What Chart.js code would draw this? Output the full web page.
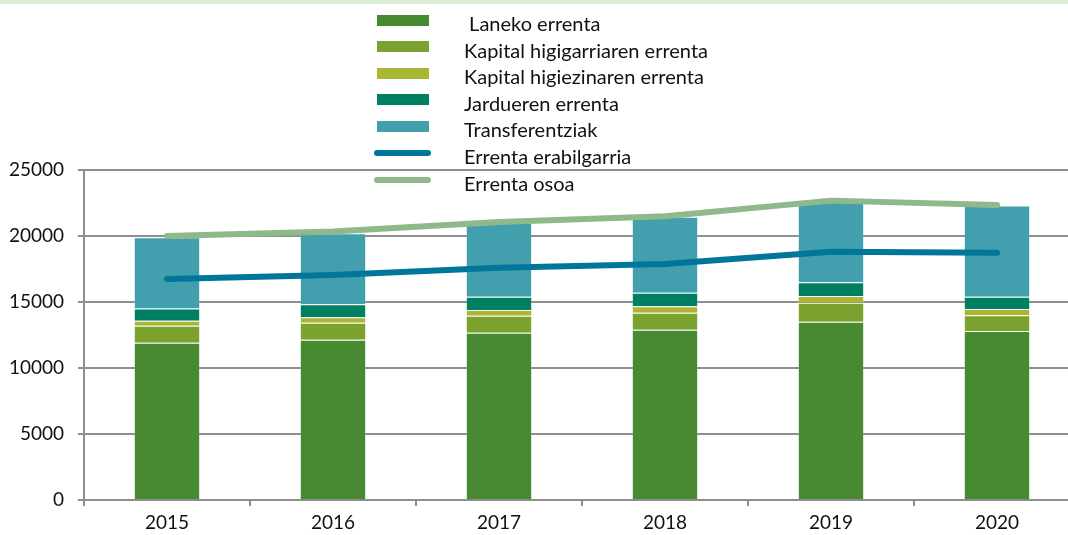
<!DOCTYPE html>
<html>
<head>
<meta charset="utf-8">
<script src="https://cdn.jsdelivr.net/npm/chart.js@4/dist/chart.umd.min.js"></script>
<style>
  html, body { margin: 0; padding: 0; background: #fff; overflow: hidden; }
  #wrap { position: relative; width: 1068px; height: 535px; overflow: hidden; }
  #band { position: absolute; left: 0; top: 0; width: 1068px; height: 4px; background: #dcedd5; }
  #cv { position: absolute; left: 0; top: 0; }
  #legend { position: absolute; left: 0; top: 0; font-family: Lato, sans-serif; font-size: 20px; color: #111; }
  .row { position: absolute; left: 0; height: 26px; white-space: pre; }
  .sw { position: absolute; }
  .txt { position: absolute; left: 464px; line-height: 22px; }
</style>
</head>
<body>
<div id="wrap">
  <canvas id="cv" width="1080" height="535"></canvas>
  <div id="band"></div>
  <div id="legend"></div>
</div>
<script>
// Values
const years = ['2015', '2016', '2017', '2018', '2019', '2020'];
const laneko = [11920, 12140, 12670, 12900, 13500, 12800];
const higigarri = [1280, 1290, 1290, 1290, 1450, 1190];
const higiezin = [380, 410, 430, 480, 500, 480];
const jarduerak = [920, 990, 1010, 1030, 1040, 930];
const transferentziak = [5400, 5370, 5600, 5760, 6110, 6920];
const erabilgarria = [16740, 17050, 17600, 17880, 18800, 18740];
const osoa = [20000, 20350, 21060, 21500, 22680, 22350];
const yTicks = [0, 5000, 10000, 15000, 20000, 25000];

const GRID = '#8e8e8e';
const FONT = { family: 'Lato, sans-serif', size: 19 };

function barSet(label, data, color) {
  return {
    type: 'bar', label: label, data: data, backgroundColor: color,
    borderColor: 'rgba(255,255,255,0.22)', borderWidth: 1,
    stack: 'bars', order: 2, barPercentage: 0.4, categoryPercentage: 1
  };
}
function lineSet(label, data, color, stack) {
  return {
    type: 'line', label: label, data: data, borderColor: color, backgroundColor: color,
    borderWidth: 6, borderCapStyle: 'round', borderJoinStyle: 'round',
    pointRadius: 0, tension: 0, stack: stack, order: 0
  };
}

const datasets = [
  barSet(' Laneko errenta', laneko, '#488a31'),
  barSet('Kapital higigarriaren errenta', higigarri, '#7ba22e'),
  barSet('Kapital higiezinaren errenta', higiezin, '#acb635'),
  barSet('Jardueren errenta', jarduerak, '#008062'),
  barSet('Transferentziak', transferentziak, '#42a0ae'),
  lineSet('Errenta erabilgarria', erabilgarria, '#00769a', 'l1'),
  lineSet('Errenta osoa', osoa, '#8fb98a', 'l2')
];

new Chart(document.getElementById('cv'), {
  data: { labels: years, datasets: datasets },
  options: {
    responsive: false,
    animation: false,
    layout: { padding: { top: 170, left: 0, right: 0, bottom: 0 } },
    plugins: { legend: { display: false }, tooltip: { enabled: false } },
    scales: {
      x: {
        stacked: true,
        offset: true,
        afterFit: s => { s.height = 35; },
        grid: { drawOnChartArea: false, drawTicks: true, tickLength: 6, color: GRID, lineWidth: 2, offset: true },
        border: { color: GRID, width: 2 },
        ticks: { color: '#111', font: FONT, padding: 5, maxRotation: 0 }
      },
      y: {
        stacked: true,
        min: 0, max: 25000,
        afterFit: s => { s.width = 84; },
        afterBuildTicks: s => { s.ticks = yTicks.map(v => ({ value: v })); },
        grid: { color: GRID, lineWidth: 2, tickLength: 6 },
        border: { color: GRID, width: 2 },
        ticks: { color: '#111', font: FONT, padding: 14, callback: v => String(v) }
      }
    }
  }
});

// Legend: vertical list drawn as HTML on top of the chart
const legend = document.getElementById('legend');
datasets.forEach((d, i) => {
  const cy = 20 + i * 26.6;
  const row = document.createElement('div');
  row.className = 'row';
  const sw = document.createElement('div');
  sw.className = 'sw';
  if (d.type === 'bar') {
    Object.assign(sw.style, { left: '377px', top: (cy - 5.5) + 'px', width: '52px', height: '11px', background: d.backgroundColor });
  } else {
    Object.assign(sw.style, { left: '374px', top: (cy - 3) + 'px', width: '57px', height: '6px', background: d.borderColor, borderRadius: '3px' });
  }
  const txt = document.createElement('div');
  txt.className = 'txt';
  txt.style.top = (cy - 8) + 'px';
  txt.textContent = d.label;
  row.appendChild(sw);
  row.appendChild(txt);
  legend.appendChild(row);
});
</script>
</body>
</html>
